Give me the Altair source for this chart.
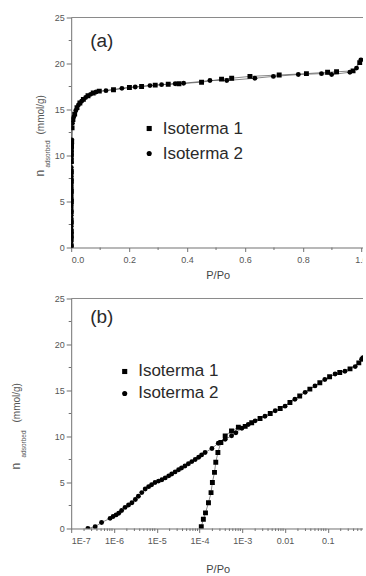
import altair as alt
import pandas as pd

SERIES = ["Isoterma 1", "Isoterma 2"]

# --- Isoterma 1: low-pressure branch (logarithmic P/Po axis)
log_p_iso1 = [1.10e-4, 1.23e-4, 1.38e-4, 1.62e-4, 1.86e-4, 2.00e-4, 2.24e-4, 2.40e-4,
              2.69e-4, 3.16e-4, 3.98e-4, 5.60e-4, 8.10e-4, 1.17e-3, 1.66e-3, 2.60e-3,
              4.50e-3, 7.70e-3, 1.30e-2, 2.20e-2, 3.80e-2, 6.50e-2, 0.110, 0.190,
              0.330, 0.530, 0.670]
log_n_iso1 = [0.2, 1.0, 1.7, 2.8, 3.9, 5.0, 6.1, 7.2,
              8.26, 9.35, 10.07, 10.6, 11.0, 11.1, 11.5, 11.95,
              12.5, 13.05, 13.7, 14.4, 15.15, 15.85, 16.5, 16.95,
              17.35, 18.0, 18.5]

# --- Isoterma 2: low-pressure branch (logarithmic P/Po axis)
log_p_iso2 = [2.45e-7, 3.63e-7, 5.13e-7, 8.13e-7, 9.55e-7, 1.12e-6, 1.29e-6, 1.51e-6,
              1.82e-6, 2.19e-6, 2.63e-6, 3.16e-6, 3.72e-6, 4.47e-6, 5.37e-6, 6.46e-6,
              7.59e-6, 9.12e-6, 1.10e-5, 1.32e-5, 1.58e-5, 1.91e-5, 2.24e-5, 2.69e-5,
              3.24e-5, 3.80e-5, 4.57e-5, 5.50e-5, 6.61e-5, 7.94e-5, 9.55e-5, 1.12e-4,
              1.35e-4, 1.95e-4, 2.75e-4, 3.98e-4, 5.62e-4, 7.08e-4, 9.77e-4, 1.38e-3,
              2.00e-3, 3.39e-3, 5.89e-3, 1.00e-2, 1.70e-2, 2.95e-2, 5.01e-2, 8.51e-2,
              0.148, 0.251, 0.437, 0.617, 0.708]
log_n_iso2 = [0.0, 0.2, 0.65, 1.1, 1.3, 1.48, 1.66, 1.95,
              2.3, 2.55, 2.8, 3.15, 3.5, 3.9, 4.3, 4.55,
              4.75, 5.0, 5.15, 5.3, 5.5, 5.72, 5.93, 6.15,
              6.38, 6.58, 6.8, 7.03, 7.27, 7.5, 7.75, 8.0,
              8.26, 8.7, 9.27, 9.7, 10.07, 10.4, 10.9, 11.3,
              11.7, 12.2, 12.8, 13.3, 14.05, 14.8, 15.5, 16.2,
              16.8, 17.1, 17.6, 18.4, 18.6]

# --- Knee and plateau on the linear P/Po axis
lin_p_iso1 = [0.003, 0.006, 0.012, 0.020, 0.030, 0.042, 0.058, 0.076, 0.097,
              0.146, 0.201, 0.243, 0.290, 0.335, 0.372,
              0.450, 0.519, 0.554, 0.617, 0.718, 0.812, 0.885, 0.916, 0.973, 0.996]
lin_n_iso1 = [13.0, 13.9, 14.5, 15.2, 15.7, 16.1, 16.5, 16.8, 17.0,
              17.15, 17.4, 17.5, 17.65, 17.75, 17.8,
              17.97, 18.3, 18.4, 18.6, 18.75, 18.9, 19.05, 19.1, 19.2, 20.1]
lin_p_iso2 = [0.004, 0.009, 0.016, 0.025, 0.036, 0.050, 0.067, 0.086, 0.120,
              0.175, 0.221, 0.272, 0.312, 0.359, 0.388,
              0.479, 0.537, 0.634, 0.698, 0.784, 0.864, 0.899, 0.962, 0.985, 1.000]
lin_n_iso2 = [13.5, 14.2, 14.9, 15.5, 15.9, 16.3, 16.65, 16.9, 17.05,
              17.3, 17.45, 17.6, 17.7, 17.8, 17.85,
              18.15, 18.15, 18.4, 18.6, 18.8, 18.9, 18.8, 19.05, 19.5, 20.4]

lin_ticks = [0.0, 0.2, 0.4, 0.6, 0.8, 1.0]
lin_minor = [0.1, 0.3, 0.5, 0.7, 0.9]
log_ticks = [1e-7, 1e-6, 1e-5, 1e-4, 1e-3, 1e-2, 1e-1]
log_minor = [k * 10.0 ** e for e in range(-7, 0) for k in range(2, 10) if k * 10.0 ** e < 0.7]
n_ticks = [0, 5, 10, 15, 20, 25]
n_minor = [2.5, 7.5, 12.5, 17.5, 22.5]


def frame(p1, n1, p2, n2):
    a = pd.DataFrame({"p": p1, "n": n1, "series": SERIES[0]})
    b = pd.DataFrame({"p": p2, "n": n2, "series": SERIES[1]})
    return pd.concat([a, b], ignore_index=True)


log_df = frame(log_p_iso1, log_n_iso1, log_p_iso2, log_n_iso2)
lin_df = pd.concat([log_df[log_df["p"] <= 0.002],
                    frame(lin_p_iso1, lin_n_iso1, lin_p_iso2, lin_n_iso2)],
                   ignore_index=True)

W, H = 293, 230
FONT = "Liberation Sans"
AX = "#707070"
TXT = "#2a2a2a"
one = pd.DataFrame({"k": [0]})


def panel(df, xscale, xaxis, minor_x, tag, leg, ytitle):
    yscale = alt.Scale(domain=[0, 25], nice=False)
    yaxis = alt.Axis(values=n_ticks, title=None, tickSize=5, labelPadding=2)
    x = alt.X("p:Q", scale=xscale, axis=xaxis)
    y = alt.Y("n:Q", scale=yscale, axis=yaxis)

    lines = alt.Chart(df).mark_line(color="#555555", strokeWidth=0.7, clip=True).encode(
        x=x, y=y, detail="series:N", order="p:Q")
    pts = alt.Chart(df).mark_point(filled=True, size=24, opacity=1, clip=True).encode(
        x=x, y=y,
        shape=alt.Shape("series:N",
                        scale=alt.Scale(domain=SERIES, range=["square", "circle"]),
                        legend=alt.Legend(orient="none", legendX=leg[0], legendY=leg[1],
                                          title=None, labelFont=FONT, labelFontSize=17,
                                          labelColor=TXT, symbolSize=26,
                                          symbolStrokeWidth=0, symbolFillColor="black",
                                          labelOffset=5, rowPadding=leg[2], padding=0)),
        color=alt.value("black"))

    xminor = alt.Chart(pd.DataFrame({"p": minor_x})).mark_rule(color=AX, strokeWidth=1).encode(
        x=x, y=alt.value(H), y2=alt.value(H + 2.5))
    yminor = alt.Chart(pd.DataFrame({"n": n_minor})).mark_rule(color=AX, strokeWidth=1).encode(
        y=y, x=alt.value(0), x2=alt.value(-2.5))
    top_line = alt.Chart(one).mark_rule(color="#8a8a8a", strokeWidth=1).encode(
        x=alt.value(0), x2=alt.value(W), y=alt.value(0))

    label = alt.Chart(one).mark_text(text=tag, font=FONT, fontSize=19, color=TXT,
                                     align="left", baseline="middle").encode(
        x=alt.value(19), y=alt.value(leg[3]))

    bx, sx, y0, y1, y2 = ytitle
    t_n = alt.Chart(one).mark_text(text="n", font=FONT, fontSize=12, color="#555555",
                                   angle=270, align="left", baseline="alphabetic").encode(
        x=alt.value(bx), y=alt.value(y0))
    t_sub = alt.Chart(one).mark_text(text="adsorbed", font=FONT, fontSize=6.5, color="#555555",
                                     angle=270, align="left", baseline="alphabetic").encode(
        x=alt.value(sx), y=alt.value(y1))
    t_unit = alt.Chart(one).mark_text(text="(mmol/g)", font=FONT, fontSize=10, color="#555555",
                                      angle=270, align="left", baseline="alphabetic").encode(
        x=alt.value(bx), y=alt.value(y2))

    return alt.layer(top_line, xminor, yminor, lines, pts, label, t_n, t_sub, t_unit).properties(
        width=W, height=H)


top = panel(
    lin_df,
    alt.Scale(domain=[0, 1.0114], nice=False, zero=False),
    alt.Axis(values=lin_ticks, format=".1f", title="P/Po", tickSize=4, labelPadding=4,
             titlePadding=5),
    lin_minor, "(a)", (69.5, 102.5, 7, 23), (-27, -21, 159, 150, 117))

bottom = panel(
    log_df,
    alt.Scale(type="log", domain=[1e-7, 0.708], nice=False),
    alt.Axis(values=log_ticks, tickSize=4, labelPadding=4, titlePadding=18, title="P/Po",
             labelExpr="datum.value < 0.005 ? '1E-' + round(-log(datum.value) / LN10) : format(datum.value, '~g')"),
    log_minor, "(b)", (45, 64.5, 4, 19), (-51.5, -45.5, 171, 159, 124))

chart = alt.vconcat(top, bottom, spacing=51, bounds="flush").resolve_scale(
    shape="independent").resolve_legend(shape="independent").configure(
    background="white", padding={"left": 9.2, "top": 13.5, "right": -4, "bottom": 0}).configure_view(
    strokeWidth=0).configure_axis(
    domainColor=AX, tickColor=AX, labelColor="#555555", labelFont=FONT, labelFontSize=9,
    titleFont=FONT, titleFontSize=11, titleColor="#444444", titleFontWeight="normal",
    grid=False)

chart.save("out.html", embed_options={"renderer": "svg", "actions": False})
